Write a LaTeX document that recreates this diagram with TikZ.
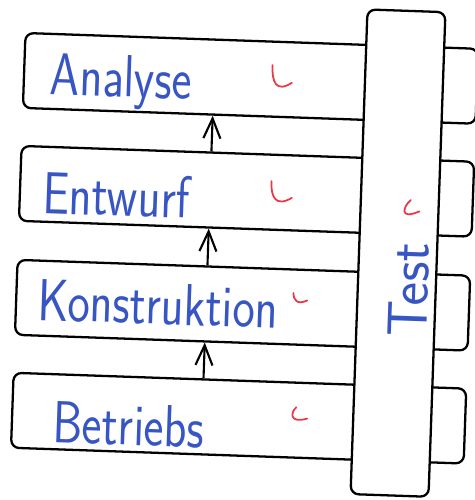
\documentclass[tikz,border=0pt]{standalone}
\usepackage{tikz}
\usetikzlibrary{arrows.meta}
\definecolor{pen}{RGB}{55,85,195}
\definecolor{redpen}{RGB}{235,55,70}

\begin{document}
\begin{tikzpicture}[x=0.02cm,y=-0.02cm,
    box/.style={draw,line width=1.3pt,rounded corners=0.16cm,minimum width=9.06cm,minimum height=1.5cm,fill=white},
    lbl/.style={text=pen,inner sep=1pt,font=\sffamily\fontsize{27}{30}\selectfont},
    phase/.style={lbl,anchor=base west,yscale=1.25},
    tick/.style={draw=redpen,line width=1pt,line cap=round},
    arr/.style={-{Straight Barb[length=0.4cm,width=0.34cm]},line width=1.2pt}]
\useasboundingbox (0,0) rectangle (474,500);
\begin{scope}[rotate around={-2:(237,250)},transform shape]
    % the four phases
    \node[box] (ana) at (244.5,78) {};
    \node[box] (ent) at (244.5,191) {};
    \node[box] (kon) at (244.5,305) {};
    \node[box] (bet) at (244.5,418) {};
    \node[phase] (anatxt) at (42,101) {Analyse};
    \node[phase] (enttxt) at (39,220) {Entwurf};
    \node[phase] (kontxt) at (38,327) {Konstruktion};
    \node[phase] (bettxt) at (57,449) {Betriebs};
    \draw[tick] (266,64) .. controls (266,80) and (270,92) .. (286,81);
    \draw[tick] (269,180) .. controls (269,196) and (274,206) .. (290,196);
    \draw[tick] (295,291) .. controls (295,298) and (299,303) .. (309,298);
    \draw[tick] (302,405) .. controls (296,410) and (295,422) .. (313,416);
    \draw[arr] ([xshift=-0.73cm]ent.north) -- ([xshift=-0.73cm]ana.south);
    \draw[arr] ([xshift=-0.73cm]kon.north) -- ([xshift=-0.73cm]ent.south);
    \draw[arr] ([xshift=-0.73cm]bet.north) -- ([xshift=-0.73cm]kon.south);
    % test across all phases
    \node[box,minimum width=1.56cm,minimum height=9.7cm] (test) at (398,247.5) {};
    \node[lbl,rotate=90,font=\sffamily\fontsize{32}{36}\selectfont] (testtxt) at (410,284) {Test};
    \draw[tick] (409,194) .. controls (402,200) and (397,215) .. (418,205);
\end{scope}
\end{tikzpicture}
\end{document}
